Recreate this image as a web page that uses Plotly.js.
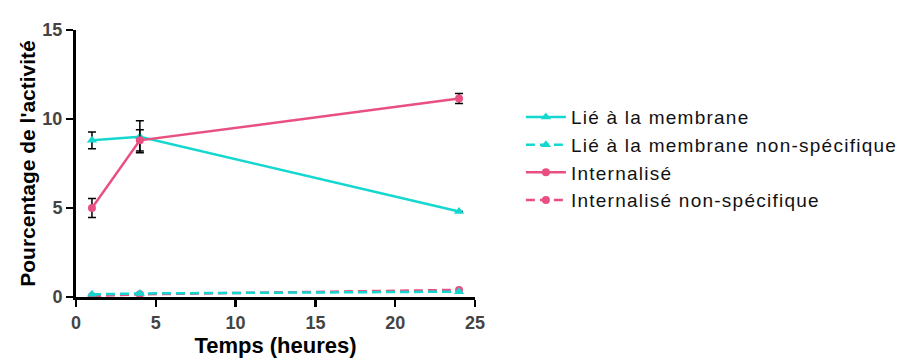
<!DOCTYPE html>
<html>
<head>
<meta charset="utf-8">
<script src="https://cdn.plot.ly/plotly-3.0.1.min.js"></script>
<style>body{margin:0;background:#fff}#chart{width:905px;height:360px}#chart .legendtext{letter-spacing:1.25px}</style>
</head>
<body>
<div id="chart"></div>
<script>
const temps = [1, 4, 24];
const lieMembrane = [8.8, 9.0, 4.8];
const lieMembraneErr = [0.47, 0.9, 0];
const lieMembraneNS = [0.15, 0.2, 0.3];
const internalise = [5.0, 8.8, 11.15];
const internaliseErr = [0.53, 0.6, 0.28];
const internaliseNS = [0.05, 0.15, 0.4];
const seriesNames = ["Lié à la membrane", "Lié à la membrane non-spécifique", "Internalisé", "Internalisé non-spécifique"];
const cyan = "#14d8cf";
const pink = "#e94f80";

function errObj(arr){
  return {type:"data", array:arr, visible:true, color:"#000", thickness:1.5, width:4};
}

const traces = [
  {x:temps, y:lieMembrane, name:seriesNames[0], mode:"lines+markers", error_y:errObj(lieMembraneErr),
   line:{color:cyan, width:2.5}, marker:{symbol:"triangle-up", size:9, color:cyan}},
  {x:temps, y:internaliseNS, name:seriesNames[3], mode:"lines+markers", showlegend:false,
   line:{color:pink, width:2.5, dash:"9px,5px"}, marker:{symbol:"circle", size:8, color:pink}},
  {x:temps, y:lieMembraneNS, name:seriesNames[1], mode:"lines+markers",
   line:{color:cyan, width:2.5, dash:"9px,5px"}, marker:{symbol:"triangle-up", size:9, color:cyan}},
  {x:temps, y:internalise, name:seriesNames[2], mode:"lines+markers", error_y:errObj(internaliseErr),
   line:{color:pink, width:2.5}, marker:{symbol:"circle", size:8, color:pink}},
  {x:[null], y:[null], name:seriesNames[3], mode:"lines+markers",
   line:{color:pink, width:2.5, dash:"9px,5px"}, marker:{symbol:"circle", size:8, color:pink}}
];

const fam = "Liberation Sans, Arial, sans-serif";
const axisFont = {family:fam, size:18, color:"#444", weight:"bold"};
const layout = {
  width:905, height:360,
  margin:{l:76, r:430, t:30, b:63},
  paper_bgcolor:"#fff", plot_bgcolor:"#fff",
  showlegend:true,
  legend:{x:1.115, xanchor:"left", y:0.745, yanchor:"top", font:{family:fam, size:19, color:"#111"}, tracegroupgap:0, itemwidth:40, traceorder:"normal"},
  xaxis:{range:[0,25], tickvals:[0,5,10,15,20,25], showgrid:false, zeroline:false, showline:true, linecolor:"#000", linewidth:3,
    ticks:"outside", ticklen:7, tickwidth:2.5, tickcolor:"#000", tickfont:axisFont,
    title:{text:"Temps (heures)", font:{family:fam, size:22, color:"#000", weight:"bold"}, standoff:6}},
  yaxis:{range:[0,15], tickvals:[0,5,10,15], showgrid:false, zeroline:false, showline:true, linecolor:"#000", linewidth:3,
    ticks:"outside", ticklen:7, tickwidth:2.5, tickcolor:"#000", tickfont:axisFont,
    title:{text:"Pourcentage de l'activité", font:{family:fam, size:21, color:"#000", weight:"bold"}, standoff:2}}
};
Plotly.newPlot("chart", traces, layout, {displayModeBar:false, staticPlot:true}).then(function(){
  document.querySelectorAll('#chart clipPath[id^="legend"] rect').forEach(function(r){
    r.setAttribute('width', '600');
  });
});
</script>
</body>
</html>
